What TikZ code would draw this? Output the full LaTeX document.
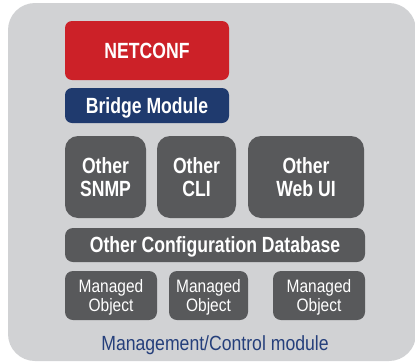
\documentclass[tikz,border=0pt]{standalone}
\usepackage{fontspec}
\setmainfont[FakeStretch=0.86, BoldFeatures={FakeStretch=0.8}]{Liberation Sans}
\definecolor{panelgray}{HTML}{D1D2D4}
\definecolor{netred}{HTML}{CC2128}
\definecolor{bridgeblue}{HTML}{1F3A6E}
\definecolor{labelblue}{HTML}{253F7B}
\definecolor{darkbox}{HTML}{58595B}
\tikzset{
  block/.style={rectangle, rounded corners=#1, inner sep=0pt, outer sep=0pt,
    text=white, align=center},
  bigtext/.style={font=\fontsize{22}{23}\selectfont\bfseries, text height=15.5pt, text depth=0pt},
  % two-line boxes: height covers the first cap line plus one line step
  bigtwo/.style={bigtext, text height=38.5pt},
  smalltwo/.style={font=\fontsize{18}{18.5}\selectfont, text height=31.5pt, text depth=0pt},
}
\begin{document}
\begin{tikzpicture}[x=1pt, y=-1pt]
\useasboundingbox (0,0) rectangle (415,362);
% outer panel
\fill[panelgray, rounded corners=27pt] (8,3) rectangle (416,361);

% protocol layers
\node[block=7pt, fill=netred, bigtext, minimum width=164pt, minimum height=59pt]
  (netconf) at (147,50.5) {NETCONF};
\node[block=7pt, fill=bridgeblue, bigtext, minimum width=164pt, minimum height=35pt]
  (bridge) at (147,105.5) {Bridge Module};

% management front ends
\node[block=13pt, fill=darkbox, bigtwo, minimum width=81pt, minimum height=82pt]
  (snmp) at (105.5,177) {Other\\SNMP};
\node[block=13pt, fill=darkbox, bigtwo, minimum width=79pt, minimum height=82pt]
  (cli) at (196.5,177) {Other\\CLI};
\node[block=13pt, fill=darkbox, bigtwo, minimum width=116pt, minimum height=82pt]
  (webui) at (306,177) {Other\\Web UI};

% configuration store
\node[block=8pt, fill=darkbox, bigtext, minimum width=300pt, minimum height=34pt]
  (db) at (215,245) {Other Configuration Database};

% managed objects
\node[block=8pt, fill=darkbox, smalltwo, minimum width=92pt, minimum height=49pt]
  (mo1) at (111,295.5) {Managed\\Object};
\node[block=8pt, fill=darkbox, smalltwo, minimum width=79pt, minimum height=49pt]
  (mo2) at (208.5,295.5) {Managed\\Object};
\node[block=8pt, fill=darkbox, smalltwo, minimum width=92pt, minimum height=49pt]
  (mo3) at (319,295.5) {Managed\\Object};

% panel caption
\node[inner sep=0pt, text=labelblue, font=\fontsize{20.5}{22}\selectfont, text height=14pt, text depth=0pt]
  (caption) at (215,343.5) {Management/Control module};
\end{tikzpicture}
\end{document}
